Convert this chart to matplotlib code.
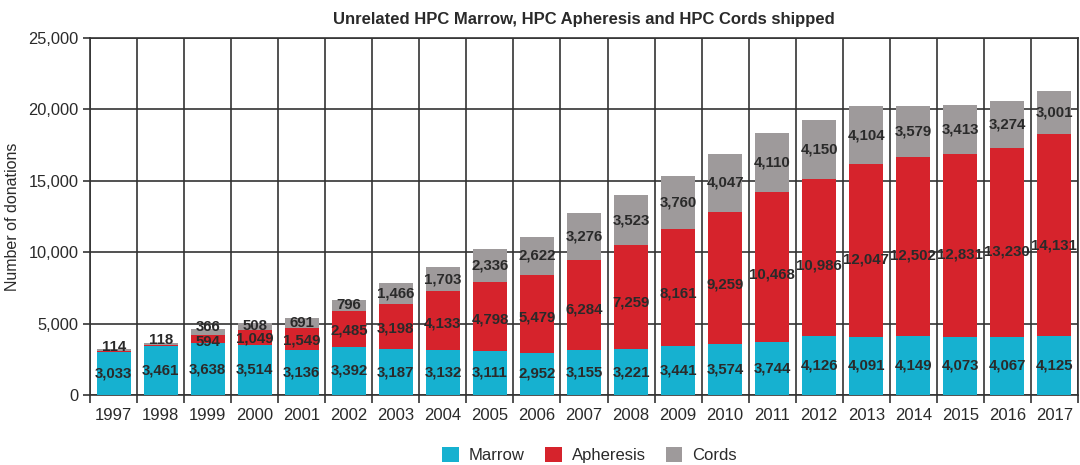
import matplotlib.pyplot as plt
import numpy as np

years = ['1997', '1998', '1999', '2000', '2001', '2002', '2003', '2004', '2005', '2006', '2007',
         '2008', '2009', '2010', '2011', '2012', '2013', '2014', '2015', '2016', '2017']
marrow = [3033, 3461, 3638, 3514, 3136, 3392, 3187, 3132, 3111, 2952, 3155,
          3221, 3441, 3574, 3744, 4126, 4091, 4149, 4073, 4067, 4125]
apheresis = [60, 70, 594, 1049, 1549, 2485, 3198, 4133, 4798, 5479, 6284,
             7259, 8161, 9259, 10468, 10986, 12047, 12502, 12831, 13230, 14131]
cords = [114, 118, 366, 508, 691, 796, 1466, 1703, 2336, 2622, 3276,
         3523, 3760, 4047, 4110, 4150, 4104, 3579, 3413, 3274, 3001]

c_marrow = '#16b1d0'
c_aph = '#d6232c'
c_cords = '#9e9a9b'
txt = '#2a2a2a'

plt.rcParams['font.family'] = ['Liberation Sans', 'DejaVu Sans']

fig = plt.figure(figsize=(10.8, 4.65), dpi=100)
ax = fig.add_axes([0.0835, 0.1505, 0.9145, 0.768])

x = np.arange(len(years))
w = 0.72
m = np.array(marrow)
a = np.array(apheresis)
c = np.array(cords)
ax.bar(x, m, w, color=c_marrow, label='Marrow', zorder=3)
ax.bar(x, a, w, bottom=m, color=c_aph, label='Apheresis', zorder=3)
ax.bar(x, c, w, bottom=m + a, color=c_cords, label='Cords', zorder=3)

kw = dict(ha='center', va='center', fontsize=10.8, fontweight='bold', color=txt, zorder=4)
for i in range(len(years)):
    top = m[i] + a[i] + c[i]
    ax.text(x[i], m[i] / 2, f'{marrow[i]:,}', **kw)
    if apheresis[i] > 1000:
        ax.text(x[i], m[i] + a[i] * 0.45, f'{apheresis[i]:,}', **kw)
    elif apheresis[i] > 300:
        ax.text(x[i], m[i] + 40, f'{apheresis[i]:,}', **kw)
    if cords[i] < 400:
        ax.text(x[i], top + 180, f'{cords[i]:,}', **kw)
    else:
        ax.text(x[i], m[i] + a[i] + c[i] / 2, f'{cords[i]:,}', **kw)

ax.set_xlim(-0.5, len(years) - 0.5)
ax.set_ylim(0, 25000)
ax.set_yticks(range(0, 25001, 5000))
ax.set_yticklabels([f'{v:,}' for v in range(0, 25001, 5000)], fontsize=11.8, color=txt)
ax.set_xticks(x)
ax.set_xticklabels(years, fontsize=12, color=txt)
ax.tick_params(axis='x', length=0, pad=9)
ax.set_xticks(np.arange(-0.5, len(years), 1), minor=True)
ax.tick_params(axis='x', which='minor', length=6, width=1.2, color='#333333')
ax.tick_params(axis='y', length=5, width=1.2, color='#333333')
ax.grid(axis='y', color='#333333', linewidth=1.2, zorder=1)
ax.grid(axis='x', which='minor', color='#333333', linewidth=1.2, zorder=1)
for s in ax.spines.values():
    s.set_color('#333333')
    s.set_linewidth(1.2)

ax.set_ylabel('Number of donations', fontsize=11.5, color=txt, labelpad=6)
ax.set_title('Unrelated HPC Marrow, HPC Apheresis and HPC Cords shipped',
             fontsize=12, fontweight='bold', color=txt, pad=10)

fig.legend(loc='lower center', bbox_to_anchor=(0.546, -0.028), ncol=3, frameon=False,
           fontsize=12, handlelength=1.0, handleheight=1.0, handletextpad=0.6,
           columnspacing=1.2, labelcolor=txt)

fig.savefig('out.png', dpi=100)
